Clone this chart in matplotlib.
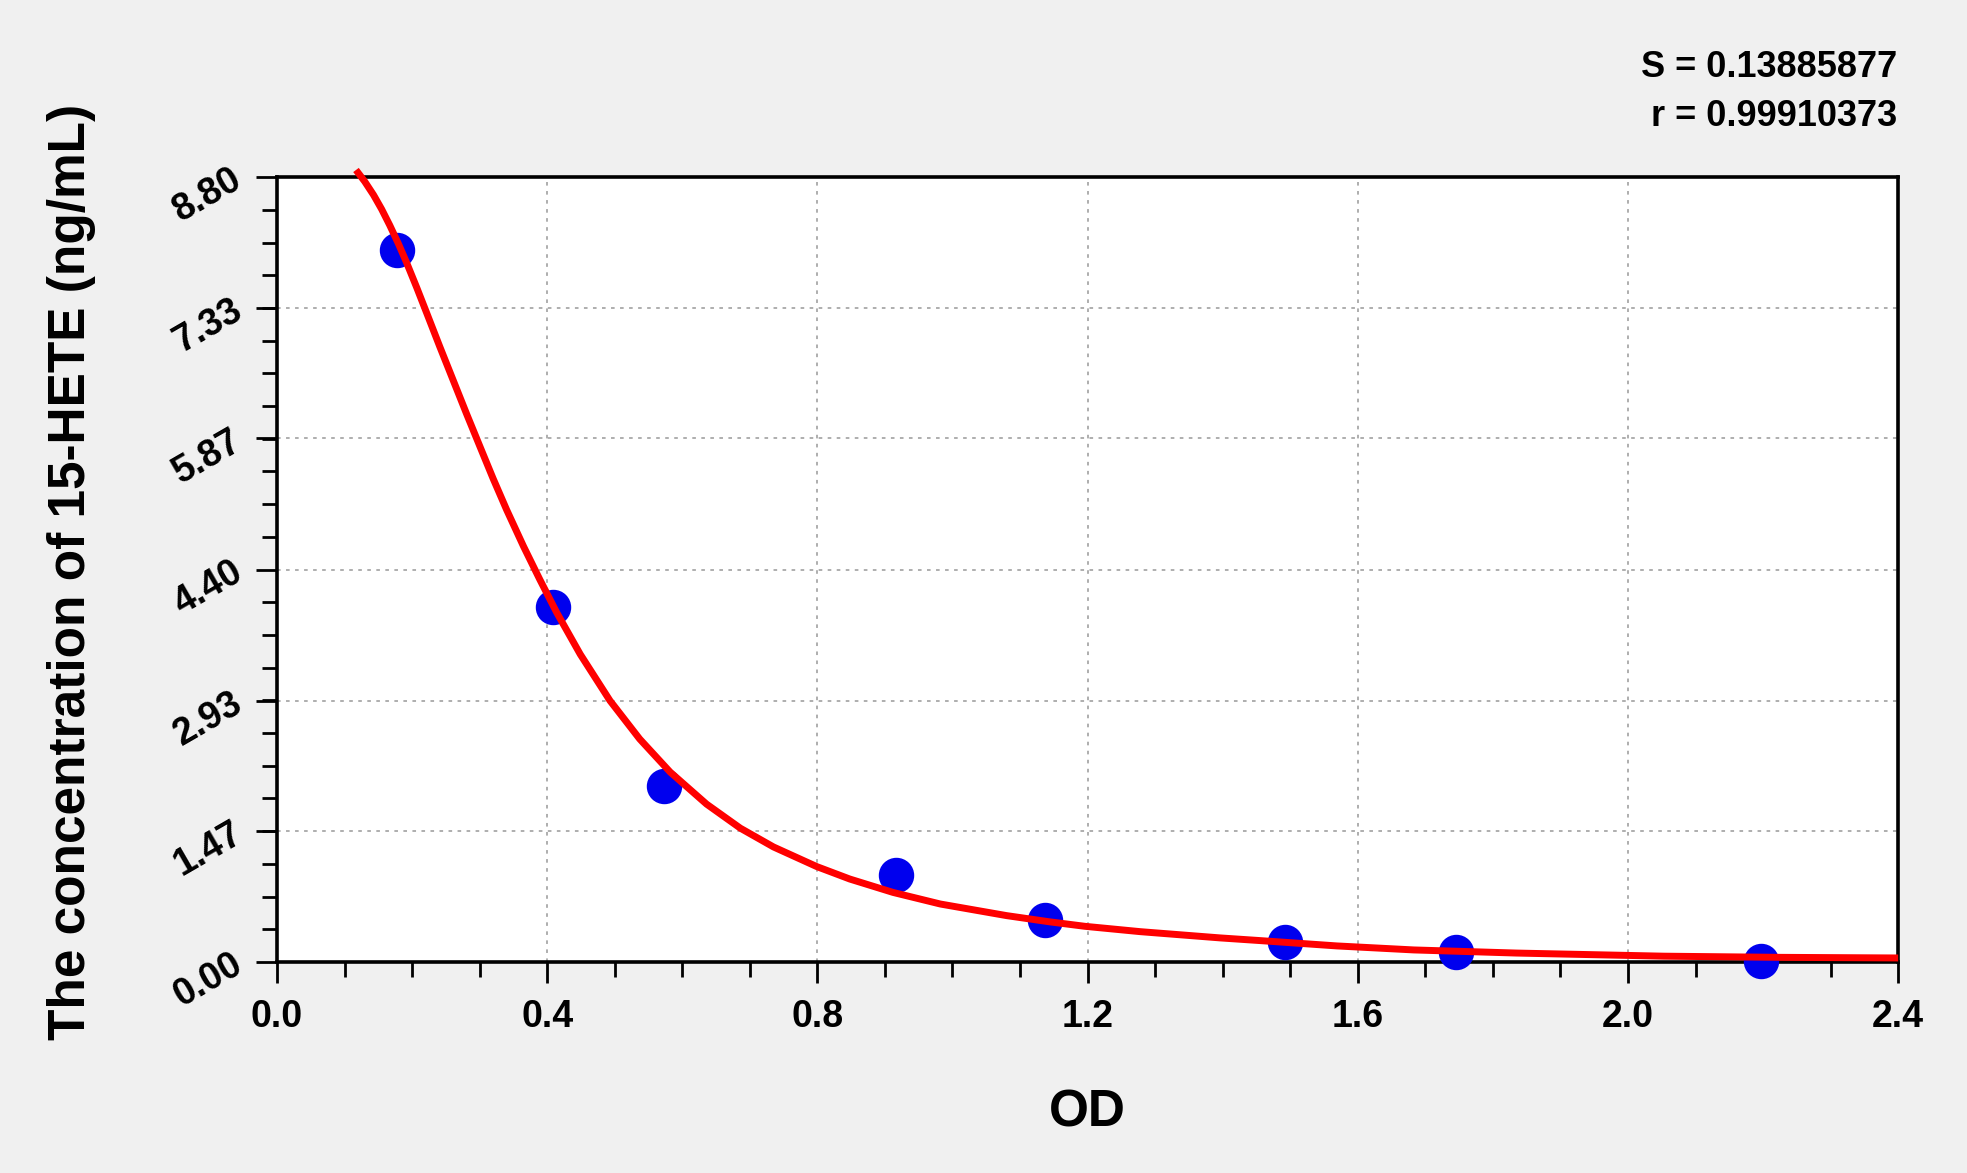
import numpy as np
import matplotlib
matplotlib.use("Agg")
import matplotlib.pyplot as plt
from matplotlib.ticker import MultipleLocator

# Standard points (OD vs concentration)
od_points = [0.178, 0.409, 0.573, 0.916, 1.137, 1.493, 1.745, 2.197]
conc_points = [7.98, 3.98, 1.97, 0.98, 0.47, 0.22, 0.11, 0.01]

# Fitted curve
curve_od = [0.117, 0.130, 0.143, 0.155, 0.167, 0.180, 0.192, 0.207, 0.222,
            0.241, 0.261, 0.281, 0.301, 0.320, 0.340, 0.365, 0.389, 0.414,
            0.449, 0.493, 0.537, 0.582, 0.636, 0.686, 0.735, 0.799, 0.848,
            0.912, 0.982, 1.080, 1.144, 1.196, 1.278, 1.396, 1.455, 1.569,
            1.683, 1.835, 2.053, 2.225, 2.400]
curve_conc = [8.88, 8.75, 8.60, 8.44, 8.26, 8.05, 7.84, 7.56, 7.27,
              6.90, 6.52, 6.14, 5.77, 5.42, 5.07, 4.66, 4.29, 3.92,
              3.45, 2.93, 2.50, 2.13, 1.77, 1.50, 1.29, 1.07, 0.93,
              0.78, 0.65, 0.52, 0.45, 0.40, 0.34, 0.27, 0.24, 0.18,
              0.135, 0.10, 0.065, 0.052, 0.045]

y_ticks = [0.00, 1.47, 2.93, 4.40, 5.87, 7.33, 8.80]
y_ticklabels = ["0.00", "1.47", "2.93", "4.40", "5.87", "7.33", "8.80"]
x_ticks = [0.0, 0.4, 0.8, 1.2, 1.6, 2.0, 2.4]
x_ticklabels = ["0.0", "0.4", "0.8", "1.2", "1.6", "2.0", "2.4"]

stats_lines = ["S = 0.13885877", "r = 0.99910373"]
xlabel = "OD"
ylabel = "The concentration of 15-HETE (ng/mL)"

plt.rcParams['font.family'] = ['Liberation Sans', 'DejaVu Sans']
plt.rcParams['font.weight'] = 'bold'

bg = '#f0f0f0'
fig = plt.figure(figsize=(19.67, 11.73), dpi=100, facecolor=bg)
ax = fig.add_axes([0.1408, 0.1799, 0.965 - 0.1408, 0.849 - 0.1799])
ax.set_facecolor('white')

ax.set_xlim(0.0, 2.4)
ax.set_ylim(0.0, 8.80)

ax.set_xticks(x_ticks)
ax.set_xticklabels(x_ticklabels)
ax.set_yticks(y_ticks)
ax.set_yticklabels(y_ticklabels)
ax.xaxis.set_minor_locator(MultipleLocator(0.1))
ax.yaxis.set_minor_locator(MultipleLocator(8.80 / 24))
ax.grid(True, which='major', color='#a8a8a8', linestyle=(0, (2, 3)), linewidth=1.3)
ax.set_axisbelow(True)

# Curve
ax.plot(curve_od, curve_conc, color='#ff0000', linewidth=5.0, clip_on=False,
        solid_capstyle='butt', solid_joinstyle='round', zorder=4)

# Markers
ax.plot(od_points, conc_points, linestyle='none', marker='o', markersize=24.5,
        color='#0000ee', markeredgecolor='#0000ee', clip_on=False, zorder=3)

for s in ax.spines.values():
    s.set_linewidth(2.6)
    s.set_color('black')

ax.tick_params(axis='both', which='major', direction='out', length=15, width=2.0,
               labelsize=27, colors='black')
ax.tick_params(axis='both', which='minor', direction='out', length=11, width=2.0)
ax.tick_params(axis='x', which='major', pad=12)
ax.tick_params(axis='y', which='major', pad=12)

for lab in ax.get_xticklabels():
    lab.set_fontweight('bold')
for lab in ax.get_yticklabels():
    lab.set_fontweight('bold')
    lab.set_rotation(30)
    lab.set_rotation_mode('anchor')
    lab.set_ha('right')
    lab.set_va('center')

ax.set_xlabel(xlabel, fontsize=37, fontweight='bold', va='center')
ax.xaxis.set_label_coords(0.5, -0.192)
ax.set_ylabel(ylabel, fontsize=37, fontweight='bold', va='center')
ax.yaxis.set_label_coords(-0.1265, 0.497)

fig.text(0.9644, 0.9428, stats_lines[0], ha='right', va='center', fontsize=26, fontweight='bold')
fig.text(0.9644, 0.9005, stats_lines[1], ha='right', va='center', fontsize=26, fontweight='bold')

fig.savefig('out.png', dpi=100, facecolor=bg)
